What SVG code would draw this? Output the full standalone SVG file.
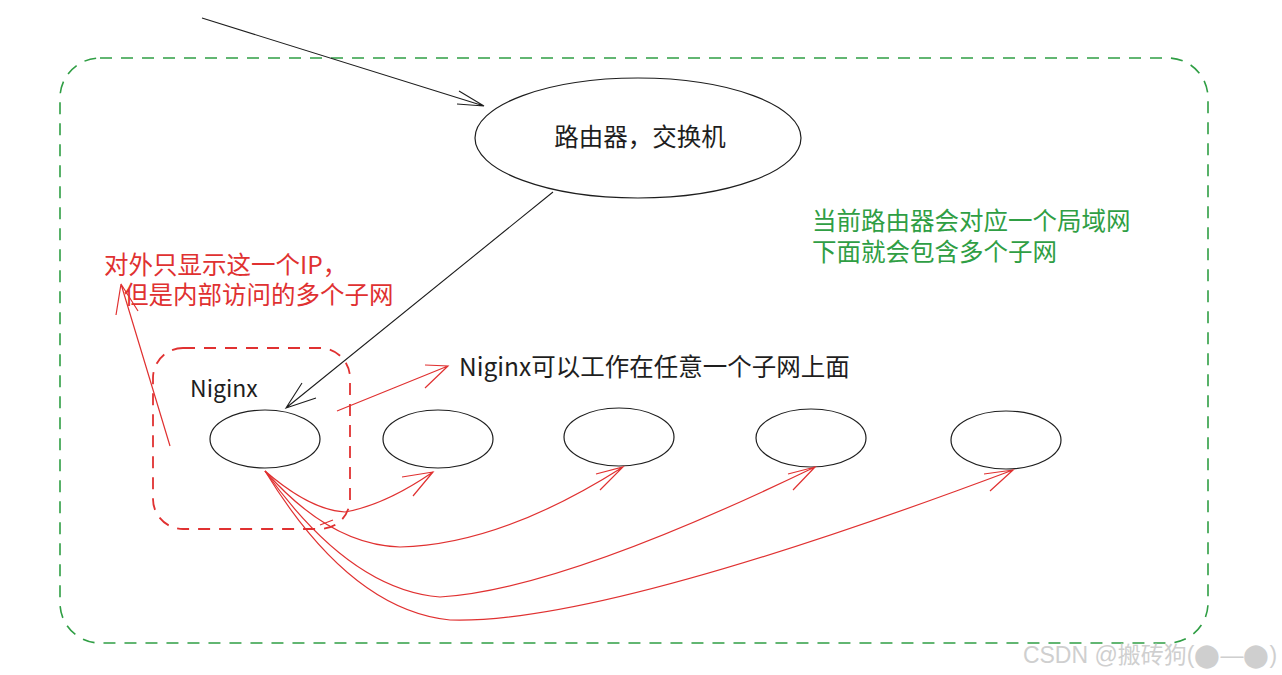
<svg xmlns="http://www.w3.org/2000/svg" width="1282" height="675" viewBox="0 0 1282 675">
<style>
.n{fill:#fff;stroke:#1e1e1e;stroke-width:1.2}
.t{font-family:"Noto Sans CJK SC","Noto Sans",sans-serif;font-size:24.5px;fill:#1e1e1e}
.r{fill:none;stroke:#e03131;stroke-width:1.2}
.k{fill:none;stroke:#1e1e1e;stroke-width:1.1}
</style>
<rect width="1282" height="675" fill="#fff"/>
<rect x="60" y="58" width="1148" height="585" rx="40" fill="none" stroke="#2f9e44" stroke-width="1.6" stroke-dasharray="12 9"/>
<rect x="153" y="348" width="197" height="181" rx="30" fill="none" stroke="#e03131" stroke-width="1.8" stroke-dasharray="12 9"/>
<g id="router"><ellipse class="n" cx="638" cy="138" rx="163" ry="60"/><text class="t" x="640" y="146" text-anchor="middle">路由器，交换机</text></g>
<g id="nginx"><ellipse class="n" cx="265" cy="439" rx="55" ry="29"/><text class="t" x="190" y="397" style="font-size:23px">Niginx</text></g>
<g id="n2"><ellipse class="n" cx="438" cy="439" rx="55" ry="29"/></g>
<g id="n3"><ellipse class="n" cx="619" cy="437" rx="55" ry="29"/></g>
<g id="n4"><ellipse class="n" cx="811" cy="438" rx="55" ry="29"/></g>
<g id="n5"><ellipse class="n" cx="1006" cy="440" rx="55" ry="29"/></g>
<text class="t" x="459" y="376">Niginx可以工作在任意一个子网上面</text>
<text class="t" x="812" y="230" style="fill:#2f9e44">当前路由器会对应一个局域网</text>
<text class="t" x="812" y="261" style="fill:#2f9e44">下面就会包含多个子网</text>
<text class="t" x="104" y="274" style="fill:#e03131">对外只显示这一个IP，</text>
<text class="t" x="124" y="304" style="fill:#e03131">但是内部访问的多个子网</text>
<text x="1150" y="663" text-anchor="middle" font-family="Liberation Sans,'Noto Sans CJK SC',sans-serif" font-size="23" fill="#cfcfcf">CSDN @搬砖狗(⬤—⬤)</text>
<g id="connectors">
<path class="k" d="M202 18 L484 106 M459 91 L484 106 L457 104"/>
<path class="k" d="M553 192 L286 408 M302 383 L286 408 L316 398"/>
<path class="r" d="M337 411 L448 366 M425 365 L448 366 L425 388"/>
<path class="r" d="M170 446 L121 284 L116 315 M121 284 L138 311"/>
<path class="r" d="M265 471 Q310 510 345 512 Q385 505 433 472 M402 477 L433 472 L413 496"/>
<path class="r" d="M265 471 Q330 545 400 547 Q500 545 623 467 M596 474 L623 467 L600 490"/>
<path class="r" d="M265 471 Q350 590 440 597 Q560 590 815 467 M788 474 L815 467 L793 490"/>
<path class="r" d="M265 471 Q350 610 450 620 Q600 625 1013 470 M984 474 L1013 470 L990 491"/>
<path class="r" d="M320 525 L333 520"/>
</g>
</svg>
